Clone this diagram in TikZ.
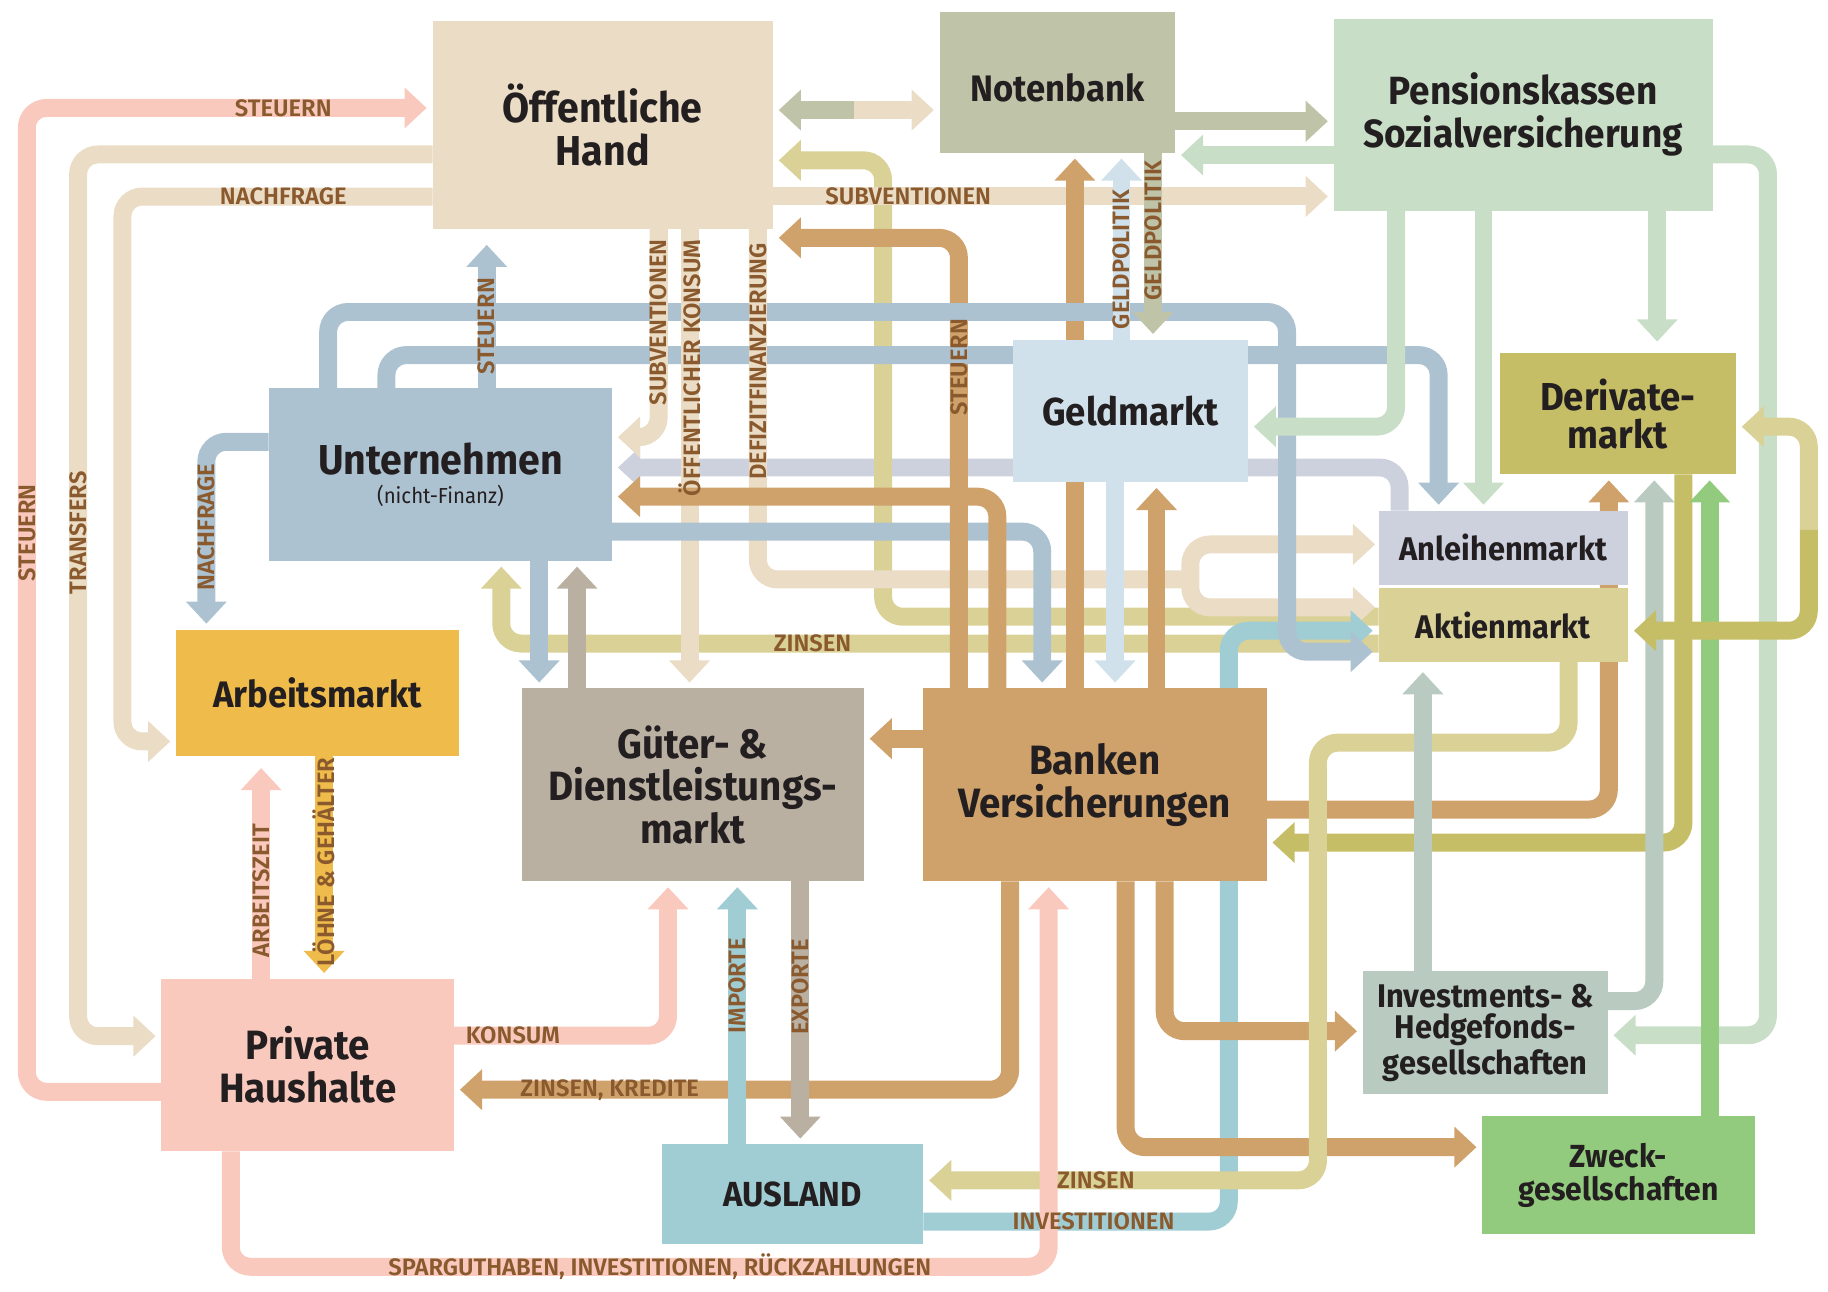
\documentclass[tikz,border=0pt]{standalone}
\usepackage{fontspec}
\setmainfont{Fira Sans}
\newfontfamily\boxfont{Fira Sans}[FakeStretch=0.94]
\newfontfamily\lblfont{Fira Sans SemiBold}
\usetikzlibrary{arrows.meta}
\definecolor{cOH}{HTML}{EADCC5}
\definecolor{cNB}{HTML}{BFC3A8}
\definecolor{cPK}{HTML}{C8DEC6}
\definecolor{cUN}{HTML}{ADC2D1}
\definecolor{cGM}{HTML}{D0E1EB}
\definecolor{cDM}{HTML}{C6BE66}
\definecolor{cAM}{HTML}{CDD1DE}
\definecolor{cAK}{HTML}{DAD196}
\definecolor{cAR}{HTML}{EFBB4B}
\definecolor{cGD}{HTML}{BAB0A2}
\definecolor{cBV}{HTML}{CFA26B}
\definecolor{cPH}{HTML}{F9C9BE}
\definecolor{cAU}{HTML}{A0CDD3}
\definecolor{cIH}{HTML}{B9CAC0}
\definecolor{cZG}{HTML}{93CB7E}
\definecolor{txt}{HTML}{231F20}
\definecolor{lab}{HTML}{8A5A2E}
\pgfdeclarelayer{bg}
\pgfdeclarelayer{lb}
\pgfsetlayers{bg,lb,main}
\begin{document}
\begin{tikzpicture}[x=0.1mm,y=-0.1mm,
  pipe/.style={line width=1.54mm, rounded corners=1.7mm},
  flow/.style={pipe, -{Triangle[width=3.4mm,length=1.9mm]}, shorten >=0.5mm},
  twoway/.style={pipe, {Triangle[width=3.4mm,length=1.9mm]}-{Triangle[width=3.4mm,length=1.9mm]}, shorten >=0.3mm, shorten <=0.3mm},
  box/.style 2 args={inner sep=0pt, outer sep=0pt, minimum width=#1*0.1mm, minimum height=#2*0.1mm, align=center, text=txt},
  bf/.style 2 args={font=\boxfont\bfseries\fontsize{#1}{#2}\selectfont},
  lbl/.style={font=\lblfont\fontsize{5.8}{6}\selectfont, text=lab, inner sep=0pt},
  vlbl/.style={lbl, rotate=90},
]
\useasboundingbox (0,0) rectangle (1568,1108.2);

% ---------------- boxes ----------------
\node[box={292}{178}, fill=cOH, bf={10.2}{10.6}] (oh) at (517,107) {Öffentliche\\Hand};
\node[box={202}{121}, fill=cNB, bf={9}{10}, text height=9.3pt, text depth=0pt] (nb) at (907,70.5) {Notenbank};
\node[box={325}{165}, fill=cPK, bf={9.6}{10.5}] (pk) at (1306.5,98.5) {Pensionskassen\\Sozialversicherung};
\node[box={294.5}{148}, fill=cUN, bf={10.2}{10.6}] (un) at (377.75,407) {Unternehmen\\[-3.5pt]{\mdseries\fontsize{5.3}{6}\selectfont(nicht-Finanz)}};
\node[box={201.5}{122}, fill=cGM, bf={9.5}{10}] (gm) at (969.75,352.5) {Geldmarkt};
\node[box={202.5}{104}, fill=cDM, bf={9.5}{9.2}] (dm) at (1387.75,355) {Derivate-\\markt};
\node[box={214}{64}, fill=cAM, bf={8}{9}] (am) at (1289.5,470) {Anleihenmarkt};
\node[box={214}{62.8}, fill=cAK, bf={8}{9}] (ak) at (1289.5,536.1) {Aktienmarkt};
\node[box={242.5}{108.8}, fill=cAR, bf={9}{10}] (ar) at (272.25,594.4) {Arbeitsmarkt};
\node[box={293.5}{165.5}, fill=cGD, bf={10}{10.3}] (gd) at (594.25,673.25) {Güter- \&\\Dienstleistungs-\\markt};
\node[box={295}{165.5}, fill=cBV, bf={10}{10.5}] (bv) at (939,673.25) {Banken\\Versicherungen};
\node[box={251}{148.1}, fill=cPH, bf={10}{10.5}] (ph) at (264,913.65) {Private\\Haushalte};
\node[box={224.5}{85.3}, fill=cAU, bf={8.5}{9}] (au) at (679.75,1024.35) {AUSLAND};
\node[box={210}{105.3}, fill=cIH, bf={8}{7.6}] (ih) at (1274,885.95) {Investments- \&\\Hedgefonds-\\gesellschaften};
\node[box={233.5}{101.8}, fill=cZG, bf={7.8}{8}] (zg) at (1388.25,1007.9) {Zweck-\\gesellschaften};

\coordinate (nbmid) at (732.5,94.4);
\coordinate (fork) at (1021,497);
\coordinate (dmid) at (1551.5,454);

% ---------------- connectors ----------------
\begin{pgfonlayer}{bg}
% outer left
\draw[flow,cPH] (ph.west |- 0,936.5) -- (23,936.5) -- (23,92.6) -- (oh.west |- 0,92.6);
\draw[flow,cOH] (oh.west |- 0,132.5) -- (67,132.5) -- (67,888.8) -- (ph.west |- 0,888.8);
\draw[flow,cOH] (oh.west |- 0,168.6) -- (105,168.6) -- (105,636) -- (ar.west |- 0,636);
% lavender
\draw[flow,cAM] (1200.5,0 |- am.north) -- (1200.5,401) -- (un.east |- 0,401);
% yellow from Aktienmarkt
\draw[flow,cAK] (ak.west |- 0,529) -- (757.5,529) -- (757.5,137.5) -- (oh.east |- 0,137.5);
\draw[flow,cAK] (ak.west |- 0,552) -- (430,552) -- (430,0 |- un.south);
% beige fork
\draw[twoway,cOH] (am.west |- 0,467) -- (1021,467) -- (1021,521) -- (ak.west |- 0,521);
% teal investitionen
\draw[flow,cAU] (au.east |- 0,1047.8) -- (1054,1047.8) -- (1054,541) -- (ak.west |- 0,541);
% beige from Oeffentliche Hand
\draw[flow,cOH] (565,0 |- oh.south) -- (565,375) -- (un.east |- 0,375);
\draw[flow,cOH] (591.5,0 |- oh.south) -- (591.5,0 |- gd.north);
\draw[pipe,cOH] (650,0 |- oh.south) -- (650,497) -- (fork);
\draw[flow,cOH] (oh.east |- 0,168.5) -- (pk.west |- 0,168.5);
% blue
\draw[flow,cUN] (un.east |- 0,456) -- (894,456) -- (894,0 |- bv.north);
\draw[flow,cUN,shorten >=1.4mm] (417.5,0 |- un.north) -- (417.5,0 |- oh.south);
\draw[flow,cUN] (un.west |- 0,379) -- (177,379) -- (177,0 |- ar.north);
\draw[flow,cUN] (462.5,0 |- un.south) -- (462.5,0 |- gd.north);
\draw[flow,cGD] (495,0 |- gd.north) -- (495,0 |- un.south);
% brown from Banken
\draw[flow,cBV] (822.5,0 |- bv.north) -- (822.5,204) -- (oh.east |- 0,204);
\draw[flow,cBV] (855.5,0 |- bv.north) -- (855.5,426) -- (un.east |- 0,426);
\draw[flow,cBV] (922,0 |- bv.north) -- (922,0 |- nb.south);
\draw[flow,cBV] (992,0 |- bv.north) -- (992,0 |- gm.south);
\draw[flow,cBV] (bv.west |- 0,633.6) -- (gd.east |- 0,633.6);
\draw[flow,cBV] (bv.east |- 0,694.4) -- (1380,694.4) -- (1380,0 |- dm.south);
\draw[flow,cBV] (866.5,0 |- bv.south) -- (866.5,934.7) -- (ph.east |- 0,934.7);
\draw[flow,cBV] (965.5,0 |- bv.south) -- (965.5,984) -- (zg.west |- 0,984);
\draw[flow,cBV] (999,0 |- bv.south) -- (999,884.5) -- (ih.west |- 0,884.5);
% blue loops (over brown and yellow)
\draw[flow,cUN] (281.5,0 |- un.north) -- (281.5,267.6) -- (1104,267.6) -- (1104,559) -- (ak.west |- 0,559);
\draw[flow,cUN] (331.5,0 |- un.north) -- (331.5,304.6) -- (1234,304.6) -- (1234,0 |- am.north);
% beige verticals pass over the blue loops
\draw[pipe,cOH] (565,0 |- oh.south) -- (565,330);
\draw[pipe,cOH] (591.5,0 |- oh.south) -- (591.5,330);
\draw[pipe,cOH] (650,0 |- oh.south) -- (650,330);
% light green from Pensionskassen
\draw[flow,cPK] (1197.5,0 |- pk.south) -- (1197.5,366) -- (gm.east |- 0,366);
\draw[flow,cPK] (1272.5,0 |- pk.south) -- (1272.5,0 |- am.north);
\draw[flow,cPK,shorten >=1mm] (1421.5,0 |- pk.south) -- (1421.5,0 |- dm.north);
\draw[flow,cPK] (pk.east |- 0,132.5) -- (1516.5,132.5) -- (1516.5,888) -- (ih.east |- 0,888);
\draw[flow,cPK] (pk.west |- 0,133) -- (nb.east |- 0,133);
% Geldpolitik
\draw[flow,cGM] (962,0 |- gm.north) -- (962,0 |- nb.south);
\draw[flow,cNB] (989,0 |- nb.south) -- (989,0 |- gm.north);
\draw[flow,cGM] (956.5,0 |- gm.south) -- (956.5,0 |- bv.north);
% Notenbank
\draw[flow,cNB] (nb.east |- 0,104) -- (pk.west |- 0,104);
\draw[flow,cNB] (nbmid) -- (oh.east |- nbmid);
\draw[flow,cOH] (nbmid) -- (nb.west |- nbmid);
% Derivate etc.
\draw[flow,cDM] (1444,0 |- dm.south) -- (1444,722.7) -- (bv.east |- 0,722.7);
\draw[flow,cAK] (1345.5,0 |- ak.south) -- (1345.5,637) -- (1130.5,637) -- (1130.5,1012.5) -- (au.east |- 0,1012.5);
\draw[flow,cIH] (ih.east |- 0,858.7) -- (1419,858.7) -- (1419,0 |- dm.south);
\draw[flow,cIH,shorten >=0.9mm] (1220.5,0 |- ih.north) -- (1220.5,0 |- ak.south);
\draw[flow,cZG] (1466.5,0 |- zg.north) -- (1466.5,0 |- dm.south);
\draw[flow,cAK] (dmid) -- (1551.5,366) -- (dm.east |- 0,366);
\draw[flow,cDM] (dmid) -- (1551.5,541) -- (ak.east |- 0,541);
% households, labour, foreign
\draw[flow,cPH,shorten >=1mm] (224,0 |- ph.north) -- (224,0 |- ar.south);
\draw[flow,cAR] (278,0 |- ar.south) -- (278,0 |- ph.north);
\draw[flow,cPH] (ph.east |- 0,888.4) -- (573,888.4) -- (573,0 |- gd.south);
\draw[flow,cPH] (198,0 |- ph.south) -- (198,1086.6) -- (899.5,1086.6) -- (899.5,0 |- bv.south);
\draw[flow,cAU] (632.5,0 |- au.north) -- (632.5,0 |- gd.south);
\draw[flow,cGD] (686.5,0 |- gd.south) -- (686.5,0 |- au.north);
\end{pgfonlayer}

% ---------------- labels ----------------
\begin{pgfonlayer}{lb}
\node[lbl] (l1) at (243,92.6) {STEUERN};
\node[lbl] (l2) at (243,168.6) {NACHFRAGE};
\node[vlbl] (l3) at (23,457) {STEUERN};
\node[vlbl] (l4) at (67,457) {TRANSFERS};
\node[vlbl] (l5) at (177,452) {NACHFRAGE};
\node[vlbl] (l6) at (417.5,280) {STEUERN};
\node[vlbl] (l7) at (565,276.5) {SUBVENTIONEN};
\node[vlbl] (l8) at (591.5,315.5) {ÖFFENTLICHER KONSUM};
\node[vlbl] (l9) at (650,310) {DEFIZITFINANZIERUNG};
\node[lbl] (l10) at (779,168.5) {SUBVENTIONEN};
\node[vlbl] (l11) at (822.5,315) {STEUERN};
\node[vlbl] (l12) at (962,222.6) {GELDPOLITIK};
\node[vlbl] (l13) at (989,198) {GELDPOLITIK};
\node[lbl] (l14) at (697,552) {ZINSEN};
\node[vlbl] (l15) at (224,764) {ARBEITSZEIT};
\node[vlbl] (l16) at (278,739.5) {LÖHNE \& GEHÄLTER};
\node[lbl] (l17) at (440,888.4) {KONSUM};
\node[lbl] (l18) at (523,934.7) {ZINSEN, KREDITE};
\node[vlbl] (l19) at (632.5,845.5) {IMPORTE};
\node[vlbl] (l20) at (686.5,846.5) {EXPORTE};
\node[lbl] (l21) at (566,1086.6) {SPARGUTHABEN, INVESTITIONEN, RÜCKZAHLUNGEN};
\node[lbl] (l22) at (940,1012.5) {ZINSEN};
\node[lbl] (l23) at (938,1047.8) {INVESTITIONEN};
\end{pgfonlayer}
\end{tikzpicture}
\end{document}
